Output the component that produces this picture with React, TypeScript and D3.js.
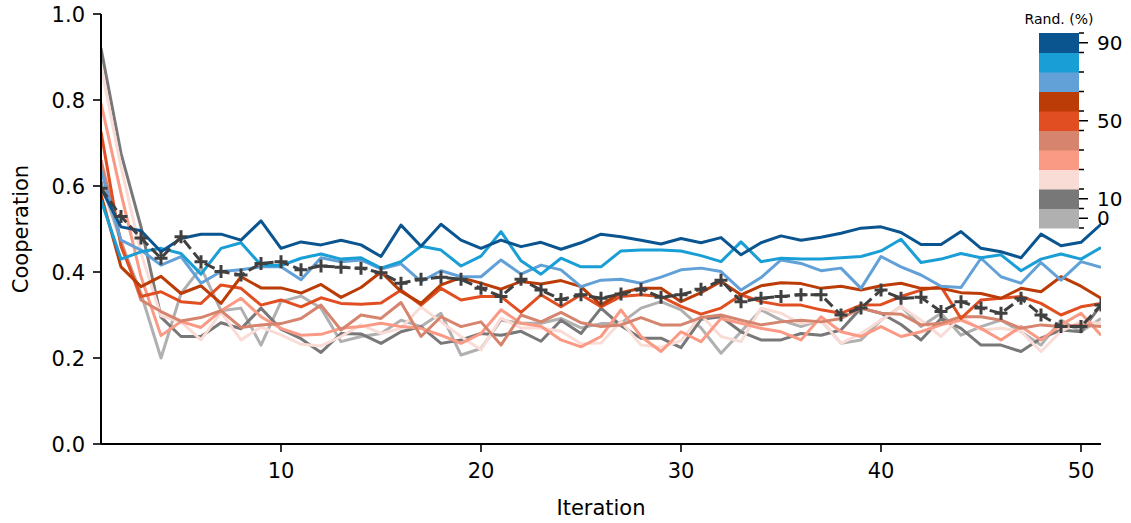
import React from 'react';
import * as d3 from 'd3';

// x values (iterations 1..51)
const iterations: number[] = d3.range(1, 52);

// randomisation levels (%) and their colours
const randLevels = [0, 10, 20, 30, 40, 50, 60, 70, 80, 90];
const levelColors = ['#b0b0b1', '#787878', '#fadcd6', '#fa9a85', '#d6846d', '#e04e21', '#bb3c07', '#62a0d8', '#1a9ed6', '#0a5490'];
const colorbarLabels = [0, 10, 50, 90];

const yTicks = [0, 0.2, 0.4, 0.6, 0.8, 1.0];
const xTicks = [10, 20, 30, 40, 50];

const rand0 = [
  0.61, 0.47, 0.35, 0.20, 0.35, 0.41, 0.31, 0.316, 0.23, 0.331, 0.344,
  0.316, 0.238, 0.25, 0.257, 0.288, 0.273, 0.304, 0.207, 0.222, 0.288,
  0.281, 0.281, 0.292, 0.27, 0.28, 0.281, 0.316, 0.331, 0.312, 0.27,
  0.211, 0.261, 0.312, 0.288, 0.273, 0.288, 0.234, 0.242, 0.288, 0.32,
  0.273, 0.304, 0.253, 0.273, 0.288, 0.261, 0.23, 0.288, 0.261, 0.292,
];
const rand10 = [
  0.92, 0.676, 0.505, 0.295, 0.25, 0.25, 0.282, 0.268, 0.316, 0.267, 0.245,
  0.213, 0.257, 0.256, 0.234, 0.261, 0.273, 0.234, 0.242, 0.257, 0.253,
  0.262, 0.239, 0.288, 0.257, 0.316, 0.275, 0.246, 0.246, 0.224, 0.29,
  0.296, 0.261, 0.242, 0.242, 0.257, 0.253, 0.265, 0.316, 0.304, 0.278,
  0.242, 0.292, 0.269, 0.23, 0.23, 0.215, 0.246, 0.265, 0.261, 0.323,
];
const rand20 = [
  0.877, 0.645, 0.444, 0.298, 0.284, 0.242, 0.306, 0.242, 0.272, 0.254, 0.232,
  0.228, 0.25, 0.277, 0.257, 0.269, 0.319, 0.284, 0.25, 0.219, 0.293,
  0.27, 0.27, 0.262, 0.233, 0.235, 0.285, 0.23, 0.225, 0.24, 0.30,
  0.25, 0.238, 0.316, 0.304, 0.28, 0.288, 0.234, 0.257, 0.288, 0.319,
  0.288, 0.25, 0.296, 0.265, 0.269, 0.262, 0.215, 0.262, 0.285, 0.28,
];
const rand30 = [
  0.793, 0.583, 0.389, 0.252, 0.285, 0.271, 0.31, 0.339, 0.296, 0.269, 0.253,
  0.255, 0.269, 0.273, 0.281, 0.273, 0.269, 0.253, 0.234, 0.257, 0.312,
  0.281, 0.274, 0.242, 0.226, 0.25, 0.312, 0.25, 0.215, 0.261, 0.238,
  0.292, 0.281, 0.269, 0.261, 0.242, 0.296, 0.261, 0.25, 0.273, 0.25,
  0.261, 0.277, 0.288, 0.269, 0.242, 0.273, 0.242, 0.277, 0.304, 0.253,
];
const rand40 = [
  0.66, 0.47, 0.335, 0.308, 0.286, 0.294, 0.31, 0.271, 0.277, 0.28, 0.292,
  0.323, 0.265, 0.30, 0.292, 0.329, 0.25, 0.296, 0.273, 0.284, 0.23,
  0.30, 0.284, 0.306, 0.282, 0.273, 0.277, 0.294, 0.277, 0.277, 0.294,
  0.30, 0.288, 0.277, 0.284, 0.288, 0.284, 0.292, 0.316, 0.304, 0.302,
  0.277, 0.281, 0.296, 0.296, 0.288, 0.269, 0.277, 0.273, 0.277, 0.273,
];
const rand50 = [
  0.726, 0.46, 0.343, 0.354, 0.331, 0.327, 0.37, 0.362, 0.323, 0.335, 0.319,
  0.34, 0.327, 0.325, 0.328, 0.358, 0.323, 0.362, 0.335, 0.343, 0.343,
  0.306, 0.347, 0.319, 0.347, 0.319, 0.343, 0.347, 0.343, 0.32, 0.302,
  0.316, 0.347, 0.331, 0.323, 0.323, 0.312, 0.304, 0.323, 0.324, 0.343,
  0.358, 0.366, 0.292, 0.335, 0.339, 0.343, 0.327, 0.30, 0.319, 0.327,
];
const rand60 = [
  0.58, 0.412, 0.366, 0.39, 0.35, 0.368, 0.327, 0.389, 0.363, 0.363, 0.351,
  0.371, 0.341, 0.364, 0.40, 0.355, 0.327, 0.37, 0.387, 0.374, 0.36,
  0.378, 0.372, 0.38, 0.366, 0.323, 0.352, 0.362, 0.362, 0.331, 0.352,
  0.378, 0.347, 0.368, 0.375, 0.373, 0.362, 0.367, 0.358, 0.368, 0.374,
  0.362, 0.362, 0.352, 0.35, 0.339, 0.362, 0.354, 0.389, 0.367, 0.339,
];
const rand70 = [
  0.637, 0.474, 0.451, 0.416, 0.436, 0.374, 0.401, 0.405, 0.412, 0.412, 0.382,
  0.433, 0.424, 0.428, 0.407, 0.419, 0.378, 0.403, 0.389, 0.389, 0.428,
  0.395, 0.416, 0.405, 0.366, 0.381, 0.383, 0.374, 0.388, 0.405, 0.409,
  0.401, 0.358, 0.387, 0.428, 0.42, 0.403, 0.409, 0.362, 0.436, 0.412,
  0.393, 0.367, 0.364, 0.432, 0.389, 0.374, 0.422, 0.381, 0.424, 0.411,
];
const rand80 = [
  0.567, 0.43, 0.447, 0.455, 0.443, 0.395, 0.455, 0.468, 0.416, 0.415, 0.432,
  0.442, 0.43, 0.433, 0.409, 0.424, 0.46, 0.451, 0.414, 0.437, 0.494,
  0.426, 0.395, 0.432, 0.412, 0.412, 0.449, 0.451, 0.451, 0.449, 0.438,
  0.424, 0.47, 0.424, 0.432, 0.43, 0.43, 0.433, 0.436, 0.449, 0.476,
  0.422, 0.43, 0.443, 0.433, 0.44, 0.403, 0.43, 0.442, 0.43, 0.457,
];
const rand90 = [
  0.595, 0.505, 0.496, 0.447, 0.478, 0.488, 0.488, 0.474, 0.519, 0.455, 0.47,
  0.463, 0.474, 0.463, 0.436, 0.509, 0.46, 0.511, 0.474, 0.455, 0.474,
  0.459, 0.469, 0.453, 0.468, 0.488, 0.482, 0.474, 0.465, 0.478, 0.468,
  0.48, 0.44, 0.468, 0.484, 0.474, 0.481, 0.49, 0.502, 0.505, 0.492,
  0.464, 0.464, 0.494, 0.455, 0.447, 0.433, 0.488, 0.461, 0.469, 0.511,
];
const averaged = [
  0.595, 0.529, 0.479, 0.432, 0.482, 0.424, 0.401, 0.393, 0.42, 0.424, 0.405,
  0.414, 0.411, 0.409, 0.398, 0.374, 0.383, 0.388, 0.383, 0.362, 0.343,
  0.383, 0.358, 0.336, 0.347, 0.339, 0.349, 0.36, 0.341, 0.347, 0.36,
  0.381, 0.331, 0.339, 0.343, 0.347, 0.347, 0.30, 0.316, 0.358, 0.339,
  0.341, 0.308, 0.331, 0.316, 0.304, 0.339, 0.30, 0.273, 0.273, 0.323,
];

const seriesValues = [rand0, rand10, rand20, rand30, rand40, rand50, rand60, rand70, rand80, rand90];

const FONT = 'DejaVu Sans, sans-serif';

export default function App() {
  const W = 1131;
  const H = 523;
  const left = 101, right = 1101, top = 14, bottom = 444;
  const x = d3.scaleLinear().domain([1, 51]).range([left, right]);
  const y = d3.scaleLinear().domain([0, 1]).range([bottom, top]);
  const line = d3
    .line<number>()
    .x((_, i) => x(iterations[i]))
    .y((d) => y(d));

  const cbTop = 33, cbBottom = 228, cbLeft = 1039, cbRight = 1079;
  const cb = d3
    .scaleBand<number>()
    .domain(randLevels.slice().reverse())
    .range([cbTop, cbBottom]);
  const cbBoundaries = d3.range(randLevels.length + 1).map((k) => cbTop + k * cb.bandwidth());

  const plusPath = (px: number, py: number, s: number) =>
    `M${px - s},${py}L${px + s},${py}M${px},${py - s}L${px},${py + s}`;

  return (
    <svg
      width={W}
      height={H}
      style={{ position: 'absolute', left: 0, top: 0, background: '#fff' }}
      fontFamily={FONT}
    >
      <defs>
        <clipPath id="plotclip">
          <rect x={left} y={top - 2} width={right - left} height={bottom - top + 2} />
        </clipPath>
      </defs>

      {/* series */}
      <g clipPath="url(#plotclip)">
        {seriesValues.map((vals, k) => (
          <path
            key={k}
            d={line(vals) || ''}
            fill="none"
            stroke={levelColors[k]}
            strokeWidth={3}
            strokeLinejoin="round"
          />
        ))}
        <path
          d={line(averaged) || ''}
          fill="none"
          stroke="#404040"
          strokeWidth={3}
          strokeDasharray="11,4.8"
          strokeLinejoin="round"
        />
        {averaged.map((v, i) => (
          <path
            key={i}
            d={plusPath(x(iterations[i]), y(v), 6.5)}
            stroke="#404040"
            strokeWidth={3}
            fill="none"
          />
        ))}
      </g>

      {/* axes */}
      <line x1={left} x2={left} y1={top} y2={bottom} stroke="#000" strokeWidth={2} />
      <line x1={left} x2={right} y1={bottom} y2={bottom} stroke="#000" strokeWidth={2} />
      {yTicks.map((t) => (
        <g key={t}>
          <line x1={left - 8} x2={left} y1={y(t)} y2={y(t)} stroke="#000" strokeWidth={1.6} />
          <text x={left - 16} y={y(t)} dy="0.36em" textAnchor="end" fontSize={21}>
            {t.toFixed(1)}
          </text>
        </g>
      ))}
      {xTicks.map((t) => (
        <g key={t}>
          <line x1={x(t)} x2={x(t)} y1={bottom} y2={bottom + 8} stroke="#000" strokeWidth={1.6} />
          <text x={x(t)} y={bottom + 34} textAnchor="middle" fontSize={21}>
            {t}
          </text>
        </g>
      ))}
      <text x={(left + right) / 2} y={515} textAnchor="middle" fontSize={21}>
        Iteration
      </text>
      <text
        transform={`translate(28,${(top + bottom) / 2}) rotate(-90)`}
        textAnchor="middle"
        fontSize={21}
      >
        Cooperation
      </text>

      {/* colorbar */}
      <text x={(cbLeft + cbRight) / 2} y={24} textAnchor="middle" fontSize={14}>
        Rand. (%)
      </text>
      {randLevels.map((lv, k) => (
        <rect
          key={lv}
          x={cbLeft}
          y={cb(lv)!}
          width={cbRight - cbLeft}
          height={cb.bandwidth() + 0.5}
          fill={levelColors[k]}
        />
      ))}
      {cbBoundaries.map((b, k) => (
        <line key={k} x1={cbRight} x2={cbRight + 5} y1={b} y2={b} stroke="#000" strokeWidth={1.5} />
      ))}
      {colorbarLabels.map((lv) => {
        const cy = cb(lv)! + cb.bandwidth() / 2;
        return (
          <g key={lv}>
            <line x1={cbRight} x2={cbRight + 9} y1={cy} y2={cy} stroke="#000" strokeWidth={1.5} />
            <text x={cbRight + 18} y={cy} dy="0.36em" fontSize={20}>
              {lv}
            </text>
          </g>
        );
      })}
    </svg>
  );
}
